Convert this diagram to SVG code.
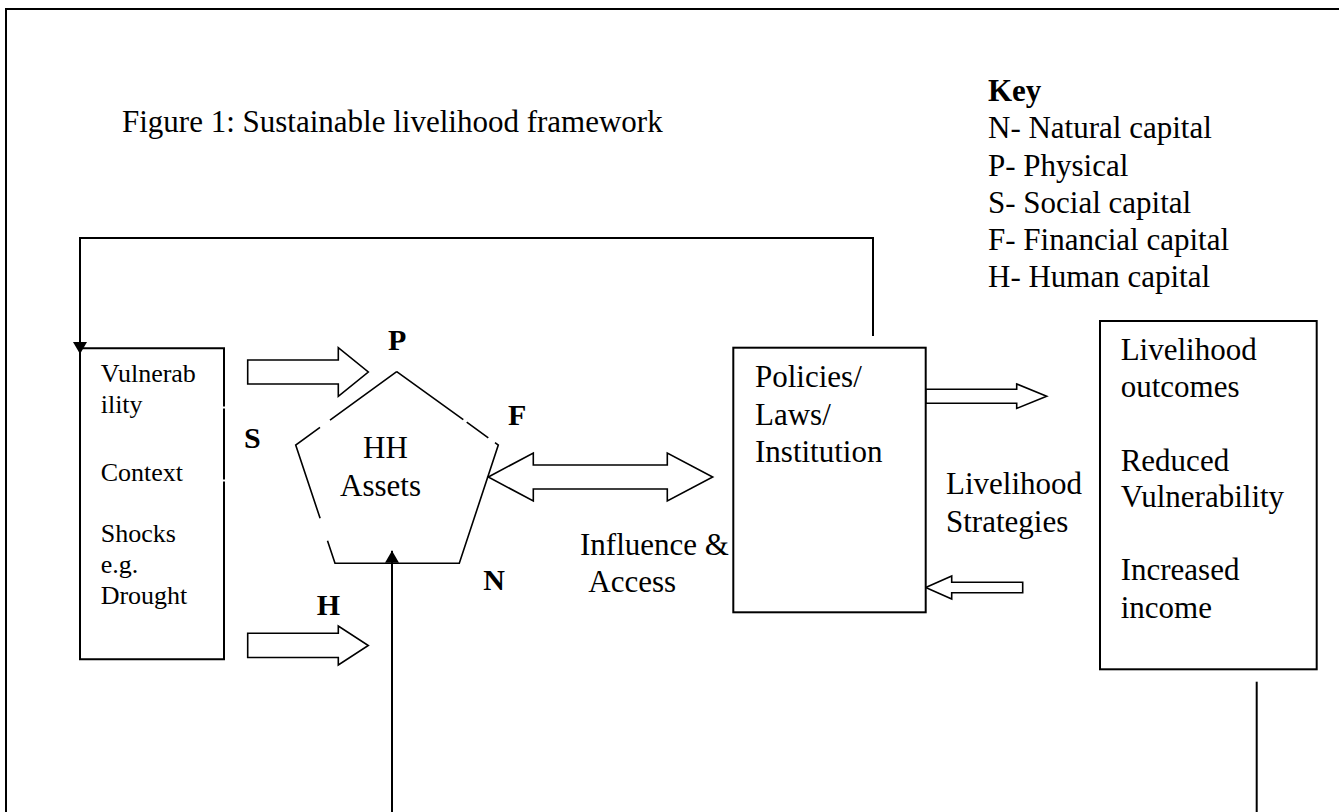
<svg xmlns="http://www.w3.org/2000/svg" width="1339" height="812" viewBox="0 0 1339 812">
<style>
text{font-family:"Liberation Serif","Times New Roman",serif;fill:#000}
.t{font-size:31px}
.s{font-size:26px}
.b{font-size:30px;font-weight:bold}
.box{fill:#fff;stroke:#000;stroke-width:2}
.ln{fill:none;stroke:#000;stroke-width:2}
.ar{fill:#fff;stroke:#000;stroke-width:1.6;stroke-linejoin:miter}
.pg{fill:none;stroke:#000;stroke-width:1.6}
</style>
<defs>
<marker id="tri" viewBox="0 0 12 14" refX="12" refY="7" markerWidth="12" markerHeight="14" markerUnits="userSpaceOnUse" orient="auto">
<path d="M0,0 L12,7 L0,14 Z" fill="#000"/>
</marker>
</defs>
<rect width="1339" height="812" fill="#fff"/>
<path class="ln" d="M6,812 V9 H1339"/>
<text class="t" x="122" y="132">Figure 1: Sustainable livelihood framework</text>
<g id="key">
<text class="t" x="988" y="101" font-weight="bold">Key</text>
<text class="t" x="988" y="138">N- Natural capital</text>
<text class="t" x="988" y="175.5">P- Physical</text>
<text class="t" x="988" y="213">S- Social capital</text>
<text class="t" x="988" y="250">F- Financial capital</text>
<text class="t" x="988" y="287">H- Human capital</text>
</g>
<g id="connectors">
<path class="ln" d="M873,336 V238 H80 V354" marker-end="url(#tri)"/>
<path class="ln" d="M392,812 V550.7" marker-end="url(#tri)"/>
<path class="ln" d="M1256.7,681.7 V812"/>
<polygon class="ar" points="247.7,360 338.3,360 338.3,347.7 368.3,372 338.3,396.3 338.3,384 247.7,384"/>
<polygon class="ar" points="247.7,633.3 338.3,633.3 338.3,626 368.3,645.5 338.3,665 338.3,657.5 247.7,657.5"/>
<polygon class="ar" points="488.3,477 533.3,453 533.3,465 667.3,465 667.3,453 712.7,477 667.3,501 667.3,489 533.3,489 533.3,501"/>
<polygon class="ar" points="925.7,389.2 1016.7,389.2 1016.7,384 1046.7,396.2 1016.7,408.4 1016.7,403.2 925.7,403.2"/>
<polygon class="ar" points="925.7,587.5 951.7,576 951.7,582.2 1022.7,582.2 1022.7,592.8 951.7,592.8 951.7,599"/>
</g>
<g id="vulnerability">
<path class="ln" d="M224,406.5 V348.3 H80 V659.3 H224 V481.5 M224,479.5 V408.5"/>
<text class="s" x="100.7" y="382.3">Vulnerab</text>
<text class="s" x="100.7" y="413.3">ility</text>
<text class="s" x="100.7" y="480.7">Context</text>
<text class="s" x="100.7" y="541.7">Shocks</text>
<text class="s" x="100.7" y="572.7">e.g.</text>
<text class="s" x="100.7" y="604">Drought</text>
</g>
<g id="assets">
<path class="pg" d="M396.7,371.7 L330,420.1 M320,427.4 L295.7,445 L320.1,518.3 M327.5,540.7 L335,563.3 L459.3,563.3 L498.3,445 L495,442.6 M488.3,437.8 L466.7,422.2 M463.3,419.7 L396.7,371.7"/>
<text class="t" x="363" y="458.3">HH</text>
<text class="t" x="340" y="495.7">Assets</text>
<text class="b" x="388" y="350">P</text>
<text class="b" x="244" y="448.3">S</text>
<text class="b" x="508" y="425">F</text>
<text class="b" x="483.3" y="590">N</text>
<text class="b" x="316.7" y="615">H</text>
</g>
<g id="influence">
<text class="t" x="580" y="555">Influence &amp;</text>
<text class="t" x="588.3" y="591.7">Access</text>
</g>
<g id="policies">
<rect class="box" x="733.3" y="347.7" width="192.4" height="264.6"/>
<text class="t" x="755" y="387.3">Policies/</text>
<text class="t" x="755" y="425">Laws/</text>
<text class="t" x="755" y="462.3">Institution</text>
</g>
<g id="strategies">
<text class="t" x="946" y="493.7">Livelihood</text>
<text class="t" x="946" y="532">Strategies</text>
</g>
<g id="outcomes">
<rect class="box" x="1100" y="321" width="216.7" height="348.3"/>
<text class="t" x="1120.7" y="360">Livelihood</text>
<text class="t" x="1120.7" y="397.4">outcomes</text>
<text class="t" x="1120.7" y="470.8">Reduced</text>
<text class="t" x="1120.7" y="507">Vulnerability</text>
<text class="t" x="1120.7" y="579.7">Increased</text>
<text class="t" x="1120.7" y="618">income</text>
</g>
</svg>
